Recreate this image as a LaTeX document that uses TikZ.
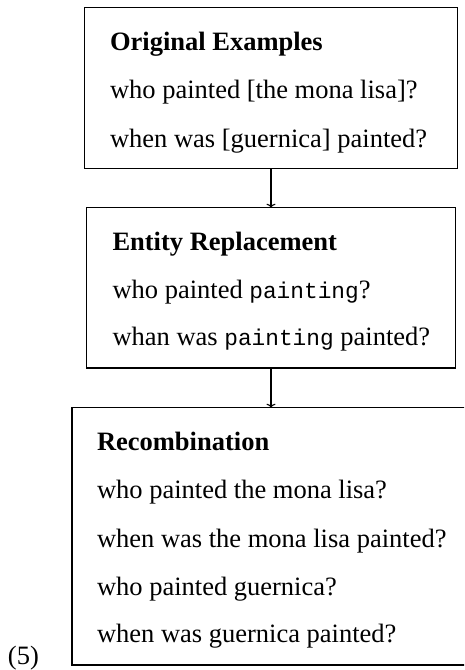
\documentclass[tikz,border=0pt]{standalone}
\usepackage{fontspec}
\setmainfont{Liberation Serif}
\setmonofont{Liberation Mono}[Scale=0.86]
\usetikzlibrary{arrows.meta}

\tikzset{
  stage/.style={draw=black, line width=1.2pt, rectangle, inner sep=0pt, outer sep=0pt},
  line/.style={anchor=base west, inner sep=0pt, outer sep=0pt, font=\fontsize{26.5}{30}\selectfont},
  head/.style={line, font=\fontsize{26.5}{30}\selectfont\bfseries},
  flow/.style={line width=1.1pt, -{To[length=4pt, width=9pt, line width=1.1pt]}},
}

\begin{document}
\begin{tikzpicture}[x=1pt, y=-1pt]
  \useasboundingbox (0,0) rectangle (464,670);
  \clip (0,0) rectangle (464,670);

  % the three stages
  \node[stage, minimum width=373.4pt, minimum height=161.2pt] (orig) at (271,88.1) {};
  \node[stage, minimum width=369.4pt, minimum height=160.3pt] (repl) at (271,287.85) {};
  \node[stage, minimum width=398pt, minimum height=257.3pt] (recomb) at (271,536.35) {};

  % original examples
  \node[head] (origT) at (110,50) {Original Examples};
  \node[line] (origA) at (110,98) {who painted [the mona lisa]?};
  \node[line] (origB) at (110,147) {when was [guernica] painted?};

  % entity replacement
  \node[head] (replT) at (112.5,250) {Entity Replacement};
  \node[line] (replA) at (112.5,298) {who painted \texttt{painting}?};
  \node[line] (replB) at (112.5,345) {whan was \texttt{painting} painted?};

  % recombination
  \node[head] (recT) at (97,450) {Recombination};
  \node[line] (recA) at (97,498) {who painted the mona lisa?};
  \node[line] (recB) at (97,547) {when was the mona lisa painted?};
  \node[line] (recC) at (97,595) {who painted guernica?};
  \node[line] (recD) at (97,642) {when was guernica painted?};

  % example number
  \node[line] (num) at (8,664) {(5)};

  % connectors
  \draw[flow] (orig.south) -- (repl.north);
  \draw[flow] (repl.south) -- (recomb.north);
\end{tikzpicture}
\end{document}
